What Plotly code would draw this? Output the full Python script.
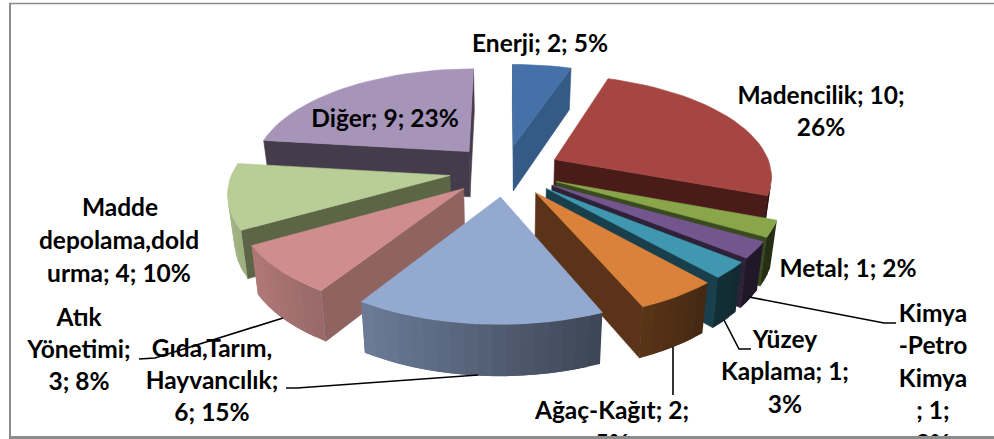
import math
import plotly.graph_objects as go

categories = ["Enerji", "Madencilik", "Metal", "Kimya -Petro Kimya", "Yüzey Kaplama",
              "Ağaç-Kağıt", "Gıda,Tarım, Hayvancılık", "Atık Yönetimi",
              "Madde depolama,doldurma", "Diğer"]
values = [2, 10, 1, 1, 1, 2, 6, 3, 4, 9]
percent_labels = [5, 26, 2, 3, 3, 5, 15, 8, 10, 23]

top_colors = ["#4571A8", "#A64643", "#8AA64B", "#74568F", "#4098B0",
              "#DA813A", "#93A9CF", "#CF8E8D", "#B9CD96", "#A794B9"]
wall_colors = ["#345A85", "#4A1C19", "#3A4A20", "#2D2238", "#1A3F4C",
               "#5A3318", "#5A6A8A", "#8E6360", "#5C6647", "#443C4B"]
draw_order = [9, 0, 1, 8, 2, 7, 3, 4, 5, 6]

label_lines = [
    ("Enerji; 2; 5%", 540, 46), ("Madencilik; 10;", 821, 98), ("26%", 821, 130),
    ("Diğer; 9; 23%", 385, 121), ("Madde", 120, 210), ("depolama,dold", 119, 243),
    ("urma; 4; 10%", 119, 276), ("Atık", 79, 320), ("Yönetimi;", 79, 352),
    ("3; 8%", 79, 384), ("Gıda,Tarım,", 212, 351), ("Hayvancılık;", 212, 383),
    ("6; 15%", 212, 415), ("Ağaç-Kağıt; 2;", 612, 413), ("5%", 612, 446),
    ("Metal; 1; 2%", 848, 271), ("Yüzey", 785, 342), ("Kaplama; 1;", 785, 374),
    ("3%", 785, 407), ("Kimya", 933, 316), ("-Petro", 933, 348), ("Kimya", 933, 381),
    ("; 1;", 933, 413), ("3%", 933, 446),
]
leaders = [
    [(283, 318), (155, 358), (139, 359)],
    [(478, 375), (297, 388), (286, 388)],
    [(673, 347), (673, 395)],
    [(724, 320), (739, 349), (751, 349)],
    [(749, 297), (884, 323), (896, 323)],
]

CX, CY, A, B, P, EXPL, THICK = 505, 170.3, 217, 100, 0.147, 0.257, 46
W, H = 994, 439


def proj(X, Y, bottom=False):
    s = 1 / (1 + P * Y)
    x = CX + A * X * s
    y = CY - B * Y * s
    if bottom:
        x = CX + (x - CX) * 0.975
        y += THICK / (1 + 0.09 * Y)
    return x, y


def shade(hex_color, f):
    r, g, b = (int(hex_color[i:i + 2], 16) for i in (1, 3, 5))
    return f"rgb({int(r * f)},{int(g * f)},{int(b * f)})"


def poly(fig, pts, color, lw=0.6):
    fig.add_trace(go.Scatter(
        x=[p[0] for p in pts] + [pts[0][0]], y=[p[1] for p in pts] + [pts[0][1]],
        mode="lines", fill="toself", fillcolor=color,
        line=dict(color=color, width=lw), hoverinfo="skip", showlegend=False))


total = sum(values)
starts, acc = [], 0
for v in values:
    starts.append(acc / total * 2 * math.pi)
    acc += v

camera_y = -1 / P
fig = go.Figure()
for i in draw_order:
    t0 = starts[i]
    t1 = t0 + values[i] / total * 2 * math.pi
    mid = (t0 + t1) / 2
    ax, ay = EXPL * math.sin(mid), EXPL * math.cos(mid)

    def edge(t):
        return ax + math.sin(t), ay + math.cos(t)

    for t, sign in ((t0, -1), (t1, 1)):
        vx, vy = sign * math.cos(t), -sign * math.sin(t)
        if (-ax) * vx + (camera_y - ay) * vy > 0:
            ex, ey = edge(t)
            poly(fig, [proj(ax, ay), proj(ex, ey), proj(ex, ey, True), proj(ax, ay, True)],
                 wall_colors[i])

    n = max(2, int((t1 - t0) / math.radians(3)))
    angles = [t0 + (t1 - t0) * k / n for k in range(n + 1)]
    for k, (a0, a1) in enumerate(zip(angles, angles[1:])):
        m = (a0 + a1) / 2
        ex, ey = edge(m)
        if (-ex) * math.sin(m) + (camera_y - ey) * math.cos(m) > 0:
            f = max(0.28, 0.55 - 0.35 * math.sin(m))
            e0, e1 = edge(a0), edge(angles[min(k + 2, n)])
            poly(fig, [proj(*e0), proj(*e1), proj(*e1, True), proj(*e0, True)],
                 shade(top_colors[i], f), lw=0)

    poly(fig, [proj(ax, ay)] + [proj(*edge(a)) for a in angles], top_colors[i])

for line in leaders:
    fig.add_trace(go.Scatter(x=[p[0] for p in line], y=[p[1] for p in line], mode="lines",
                             line=dict(color="#000000", width=1.6), hoverinfo="skip",
                             showlegend=False))

fig.add_trace(go.Scatter(
    x=[l[1] for l in label_lines], y=[l[2] for l in label_lines],
    text=[l[0] for l in label_lines], mode="text", textposition="middle center",
    textfont=dict(family="Lato", size=24.5, color="#000000", weight="bold"),
    hoverinfo="skip", showlegend=False))

frame = "#8C8C8C"
fig.update_layout(
    width=W, height=H, margin=dict(l=0, r=0, t=0, b=0, pad=0),
    paper_bgcolor="white", plot_bgcolor="white", showlegend=False,
    xaxis=dict(range=[0, W], visible=False, fixedrange=True),
    yaxis=dict(range=[H, 0], visible=False, fixedrange=True),
    shapes=[
        dict(type="line", x0=10, x1=10, y0=3.5, y1=438, line=dict(color=frame, width=2), layer="above"),
        dict(type="line", x0=9, x1=W, y0=3.5, y1=3.5, line=dict(color=frame, width=1.5), layer="above"),
        dict(type="line", x0=9, x1=W, y0=437.5, y1=437.5, line=dict(color=frame, width=3), layer="above"),
    ],
)
fig.write_html("out.html", config={"displayModeBar": False},
               post_script="document.body.style.margin='0';document.body.style.overflow='hidden';")
